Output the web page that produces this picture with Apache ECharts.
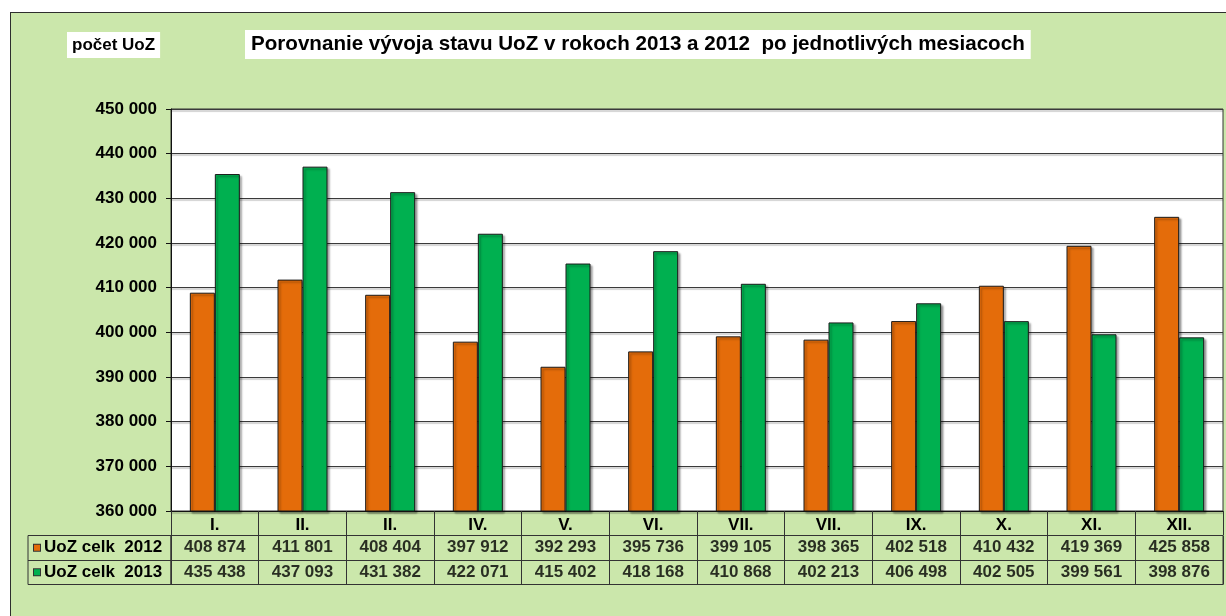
<!DOCTYPE html>
<html>
<head>
<meta charset="utf-8">
<script src="https://cdn.jsdelivr.net/npm/echarts@6/dist/echarts.min.js"></script>
<style>
  body { margin: 0; background: #fff; }
  #frame {
    position: absolute;
    left: 10px;
    top: 12px;
    width: 1230px;
    height: 620px;
    background: #cbe7ab;
    border: 1px solid #2e2e2e;
  }
  #chart {
    position: absolute;
    left: 0;
    top: 0;
    width: 1226px;
    height: 616px;
  }
</style>
</head>
<body>
<div id="frame"></div>
<div id="chart"></div>
<script>
// mesiace (tak ako v originali)
const months = ['I.', 'II.', 'II.', 'IV.', 'V.', 'VI.', 'VII.', 'VII.', 'IX.', 'X.', 'XI.', 'XII.']
const rowNames = ['UoZ celk  2012', 'UoZ celk  2013']
const uoz2012 = [408874, 411801, 408404, 397912, 392293, 395736, 399105, 398365, 402518, 410432, 419369, 425858]
const uoz2013 = [435438, 437093, 431382, 422071, 415402, 418168, 410868, 402213, 406498, 402505, 399561, 398876]

const colors = ['#e46c0a', '#00b050']
const font = "'Liberation Sans', Arial, sans-serif"

function fmt(v) {
  return String(v).replace(/\B(?=(\d{3})+(?!\d))/g, ' ')
}

// bunky tabulky
let cells = []
months.forEach((m, i) => {
  cells.push([i, 0, uoz2012[i]])
  cells.push([i, 1, uoz2013[i]])
})

const barStyle = (c) => ({
  color: c,
  borderColor: '#1a1a1a',
  borderWidth: 1,
  shadowColor: 'rgba(0,0,0,0.35)',
  shadowOffsetX: 2,
  shadowOffsetY: 2,
  shadowBlur: 2
})

let chart = echarts.init(document.getElementById('chart'))
chart.setOption({
  animation: false,
  textStyle: { fontFamily: font },
  title: [
    {
      text: 'Porovnanie vývoja stavu UoZ v rokoch 2013 a 2012  po jednotlivých mesiacoch',
      left: 245,
      top: 30,
      backgroundColor: '#fff',
      padding: [4, 6, 4, 6],
      textStyle: { fontSize: 20.6, fontWeight: 'bold', color: '#000', fontFamily: font, lineHeight: 21 }
    },
    {
      text: 'počet UoZ',
      left: 67,
      top: 32,
      backgroundColor: '#fff',
      padding: [4, 5, 4, 5],
      textStyle: { fontSize: 17, fontWeight: 'bold', color: '#000', fontFamily: font, lineHeight: 18 }
    }
  ],
  grid: [
    { left: 171, top: 109, width: 1052, height: 402, show: true, backgroundColor: '#fff', borderColor: '#333', borderWidth: 1 },
    { left: 171, top: 535.5, width: 1052, height: 49, show: true, borderColor: '#333', borderWidth: 1 },
    { left: 28, top: 535.5, width: 143, height: 49, show: true, borderColor: '#333', borderWidth: 1 }
  ],
  xAxis: [
    {
      gridIndex: 0,
      type: 'category',
      data: months,
      axisLine: { lineStyle: { color: '#111', width: 1 } },
      axisTick: { show: true, length: 24, interval: 0, lineStyle: { color: '#333' } },
      axisLabel: { interval: 0, margin: 6, fontSize: 17, fontWeight: 'bold', color: '#000' }
    },
    {
      gridIndex: 1,
      type: 'category',
      data: months,
      axisLine: { show: false },
      axisTick: { show: false },
      axisLabel: { show: false },
      splitLine: { show: true, interval: 0, lineStyle: { color: '#333' } }
    },
    {
      gridIndex: 2,
      type: 'value',
      show: false
    }
  ],
  yAxis: [
    {
      gridIndex: 0,
      type: 'value',
      min: 360000,
      max: 450000,
      interval: 10000,
      axisLine: { show: true, lineStyle: { color: '#111' } },
      axisTick: { show: true, length: 5, lineStyle: { color: '#111' } },
      axisLabel: { margin: 14, fontSize: 17, fontWeight: 'bold', color: '#000', formatter: v => fmt(v) },
      splitLine: {
        lineStyle: { color: '#3a3a3a', width: 1, shadowColor: 'rgba(0,0,0,0.35)', shadowOffsetY: 1.5, shadowBlur: 1 }
      }
    },
    {
      gridIndex: 1,
      type: 'category',
      data: rowNames,
      inverse: true,
      axisLine: { show: false },
      axisTick: { show: false },
      axisLabel: { show: false },
      splitLine: { show: true, interval: 0, lineStyle: { color: '#333' } }
    },
    {
      gridIndex: 2,
      type: 'category',
      data: rowNames,
      inverse: true,
      axisLine: { show: false },
      axisTick: { show: false },
      splitLine: { show: true, interval: 0, lineStyle: { color: '#333' } },
      axisLabel: {
        inside: true,
        margin: 6,
        interval: 0,
        formatter: (v, i) => '{m' + i + '|}{t|' + v + '}',
        rich: {
          m0: { width: 6, height: 6, backgroundColor: colors[0], borderColor: '#333', borderWidth: 1 },
          m1: { width: 6, height: 6, backgroundColor: colors[1], borderColor: '#333', borderWidth: 1 },
          t: { fontSize: 17, fontWeight: 'bold', color: '#000', padding: [0, 0, 0, 4], fontFamily: font }
        }
      }
    }
  ],
  series: [
    {
      name: 'UoZ celk 2012',
      type: 'bar',
      data: uoz2012,
      barWidth: 25,
      barGap: '0%',
      itemStyle: barStyle(colors[0])
    },
    {
      name: 'UoZ celk 2013',
      type: 'bar',
      data: uoz2013,
      barWidth: 25,
      barGap: '0%',
      itemStyle: barStyle(colors[1])
    },
    {
      type: 'scatter',
      xAxisIndex: 1,
      yAxisIndex: 1,
      data: cells,
      symbolSize: 1,
      silent: true,
      itemStyle: { color: 'rgba(0,0,0,0)' },
      label: {
        show: true,
        position: 'inside',
        formatter: p => fmt(p.value[2]),
        fontSize: 17,
        fontWeight: 'bold',
        color: '#000',
        fontFamily: font
      }
    }
  ]
})
</script>
</body>
</html>
